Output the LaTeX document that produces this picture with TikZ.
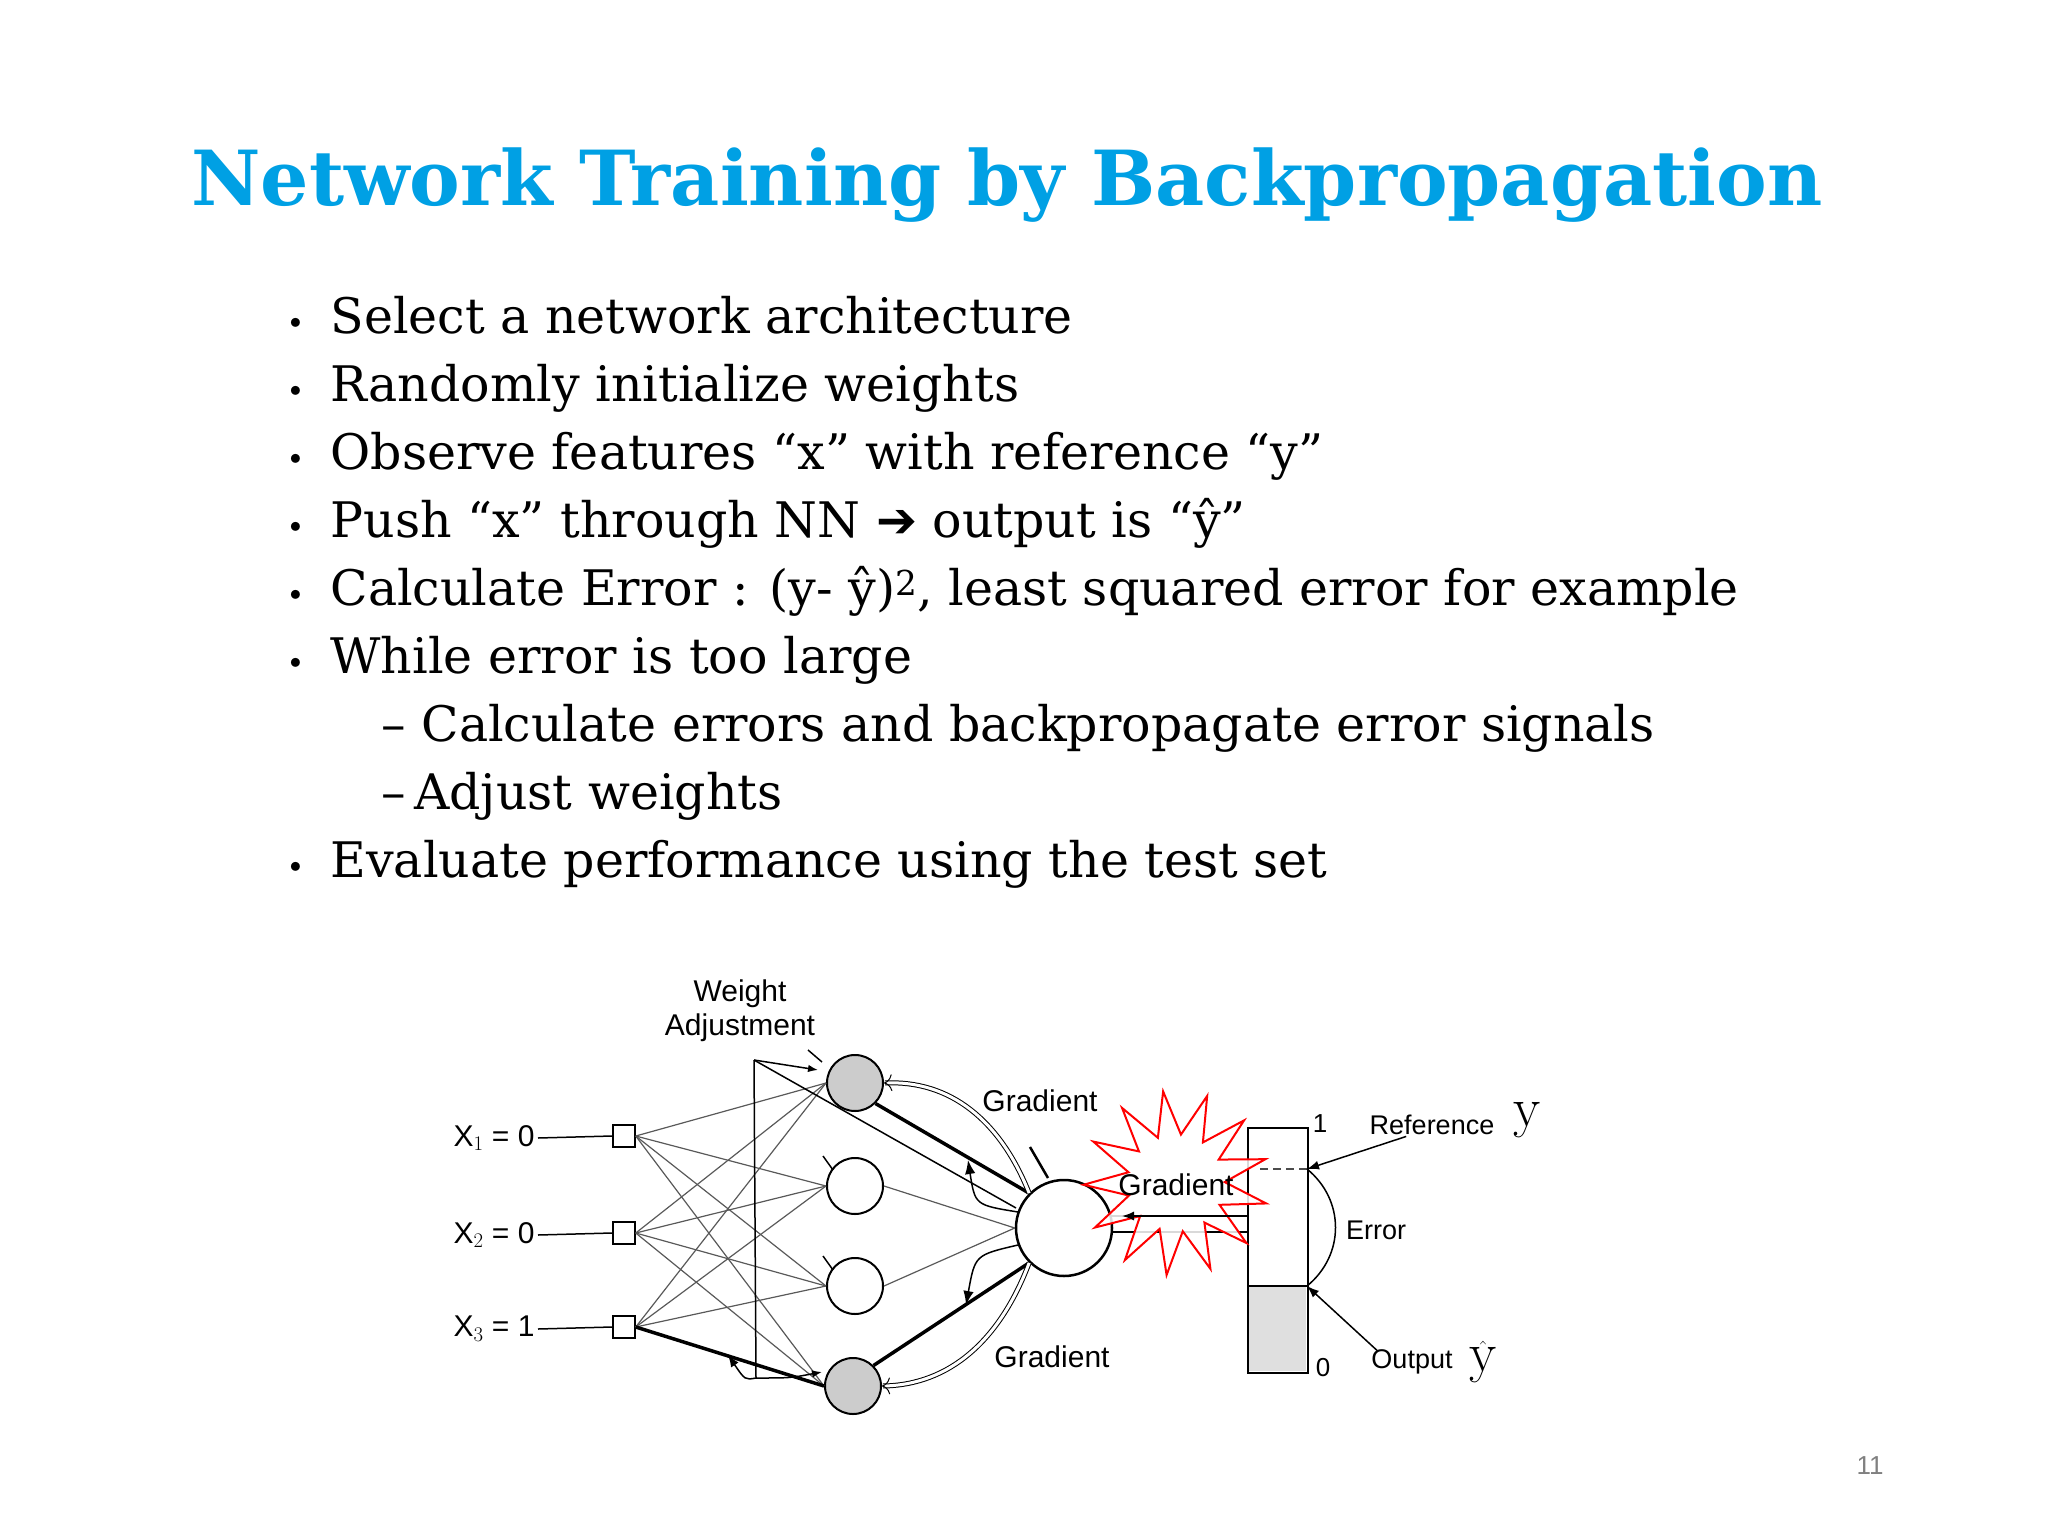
\documentclass[tikz,border=0pt]{standalone}
\usepackage{fontspec}
\newfontfamily\dsans{Liberation Sans}
\newfontfamily\dv{DejaVu Sans}
\newfontfamily\dserif{DejaVu Serif}
\usetikzlibrary{shapes.geometric,arrows.meta}
\definecolor{titleblue}{RGB}{0,160,228}
\begin{document}
\begin{tikzpicture}[x=1pt,y=-1pt,
  bul/.style={anchor=base west,font=\dserif\fontsize{49}{54}\selectfont},
  dlab/.style={font=\dsans\fontsize{30}{34}\selectfont},
  neuron/.style={circle,draw,line width=2pt,minimum size=56pt,inner sep=0},
  gneuron/.style={neuron,fill=gray!40},
  inp/.style={draw,line width=1.5pt,minimum size=22pt,inner sep=0},
  thin/.style={gray!70!black,line width=1.2pt},
  thick/.style={line width=3.5pt}]
\useasboundingbox (0,0) rectangle (2048,1536);
\node[font=\dserif\bfseries\fontsize{76}{90}\selectfont,text=titleblue] (title) at (1007,185) {Network Training by Backpropagation};
% bullets
\foreach \yy/\t [count=\i] in {333/Select a network architecture,401/Randomly initialize weights,469/Observe features “x” with reference “y”,537/{Push “x” through NN {\dv ➔} output is “ŷ”},605/{Calculate Error : (y- ŷ)\textsuperscript{2}, least squared error for example},673/While error is too large,877/Evaluate performance using the test set}
  {\node[bul] (b\i) at (327,\yy) {\t};
   \node[anchor=base,font=\fontsize{40}{44}\selectfont] (d\i) at (296,\yy) {\textbullet};}
\node[bul] (s1) at (378,741) {– Calculate errors and backpropagate error signals};
\node[bul] (s2) at (378,809) {–\,Adjust weights};
% diagram nodes
\node[gneuron] (h1) at (855,1083) {};
\node[neuron] (h2) at (855,1186) {};
\node[neuron] (h3) at (855,1286) {};
\node[gneuron] (h4) at (853,1386) {};
\node[neuron,minimum size=96pt,line width=2.5pt] (o) at (1064,1228) {};
\node[inp] (i1) at (624,1136) {};
\node[inp] (i2) at (624,1233) {};
\node[inp] (i3) at (624,1327) {};
\node[dlab,anchor=east] (x1) at (538,1138) {X$_1$ = 0};
\node[dlab,anchor=east] (x2) at (538,1235) {X$_2$ = 0};
\node[dlab,anchor=east] (x3) at (538,1329) {X$_3$ = 1};
\foreach \k in {1,2,3} \draw[line width=1.5pt] (x\k.east) -- (i\k.west);
\foreach \a in {1,2,3} \foreach \b in {1,2,3,4} \draw[thin] (i\a.east) -- (h\b.west);
\draw[thick] (i3.east) -- (h4.west);
\draw[thin] (h2.east) -- (o.west); \draw[thin] (h3.east) -- (o.west);
\draw[thick] (h1.south east) -- (o.north west);
\draw[thick] (h4.north east) -- (o.south west);
% bias ticks
\draw[line width=1.5pt] (823,1156) -- (833,1170);
\draw[line width=1.5pt] (823,1256) -- (833,1270);
\draw[line width=2.5pt] (1030,1147) -- (1048,1178);
% weight adjustment
\node[dlab,align=center] (wa) at (740,1011) {Weight\\Adjustment};
\coordinate (vt) at (754,1060);
\coordinate (vb) at (756,1378);
\draw[line width=1.5pt] (vt) -- (vb);
\draw[line width=1.5pt,-{Latex[length=10pt]}] (vt) -- (818,1070);
\draw[line width=1.5pt] (808,1050) -- (822,1062);
\draw[line width=1.5pt] (vt) -- (1016,1208);
\draw[line width=1.5pt,-{Latex[length=12pt]}] (vb) .. controls (745,1380) .. (728,1355);
\draw[line width=1.5pt,-{Latex[length=10pt]}] (vb) .. controls (790,1378) .. (822,1372);
% gradient arcs
\draw[double,double distance=3pt,line width=1pt,-{To[length=8pt]}] (o.north west) .. controls (1000,1120) and (950,1080) .. (h1.east);
\draw[double,double distance=3pt,line width=1pt,-{To[length=8pt]}] (o.south west) .. controls (1000,1340) and (950,1385) .. (h4.east);
\draw[line width=1.5pt,-{Latex[length=14pt]}] (1018,1212) .. controls (975,1205) .. (968,1160);
\draw[line width=1.5pt,-{Latex[length=14pt]}] (1018,1245) .. controls (975,1255) .. (966,1305);
\node[dlab] (g1) at (1040,1101) {Gradient};
\node[dlab] (g2) at (1052,1357) {Gradient};
% bar
\fill[gray!25] (1248,1286) rectangle (1306,1371);
\draw[line width=1.5pt] (1247,1286) -- (1307,1286);
\node[draw,line width=1.5pt,minimum width=60pt,minimum height=245pt,inner sep=0,anchor=north west] (bar) at (1247,1127) {};
\coordinate (ref) at (1307,1169);
\coordinate (out) at (1307,1286);
\draw[line width=2pt,dash pattern=on 8pt off 5pt,gray!60!black] (1260,1169) -- (ref);
\draw[line width=1.5pt] (ref) .. controls (1345,1200) and (1345,1255) .. (out);
\node[dlab,font=\dsans\fontsize{26}{30}\selectfont] (one) at (1320,1124) {1};
\node[dlab,font=\dsans\fontsize{26}{30}\selectfont] (zero) at (1323,1368) {0};
\node[dlab,font=\dsans\fontsize{27}{30}\selectfont] (rl) at (1432,1125) {Reference};
\node[dlab,font=\dsans\fontsize{27}{30}\selectfont] (el) at (1376,1230) {Error};
\node[dlab,font=\dsans\fontsize{27}{30}\selectfont] (ol) at (1412,1362) {Output};
\draw[line width=1.5pt,-{Latex[length=12pt]}] (rl.south west) ++(40,-2) -- (ref);
\draw[line width=1.5pt,-{Latex[length=12pt]}] (ol.north west) ++(10,5) -- (out);
\node[font=\fontsize{56}{60}\selectfont] (yl) at (1527,1120) {y};
\node[font=\fontsize{56}{60}\selectfont] (yh) at (1483,1362) {$\hat{\textrm{y}}$};
% double line bar -> output
\draw[line width=1.5pt] (1247,1216) -- (1110,1216);
\draw[line width=1.5pt] (1247,1232) -- (1112,1232);
% star
\node[star,star points=13,star point ratio=1.9,draw=red,line width=2pt,fill=white,fill opacity=0.85,minimum size=185pt,inner sep=0,rotate=8] (st) at (1176,1183) {};
\draw[line width=1.5pt,-{Latex[length=12pt]}] (1247,1216) -- (1122,1216);
\node[dlab] (gs) at (1176,1185) {Gradient};
\node[font=\dsans\fontsize{26}{30}\selectfont,text=gray] (pg) at (1870,1466) {11};
\end{tikzpicture}
\end{document}
